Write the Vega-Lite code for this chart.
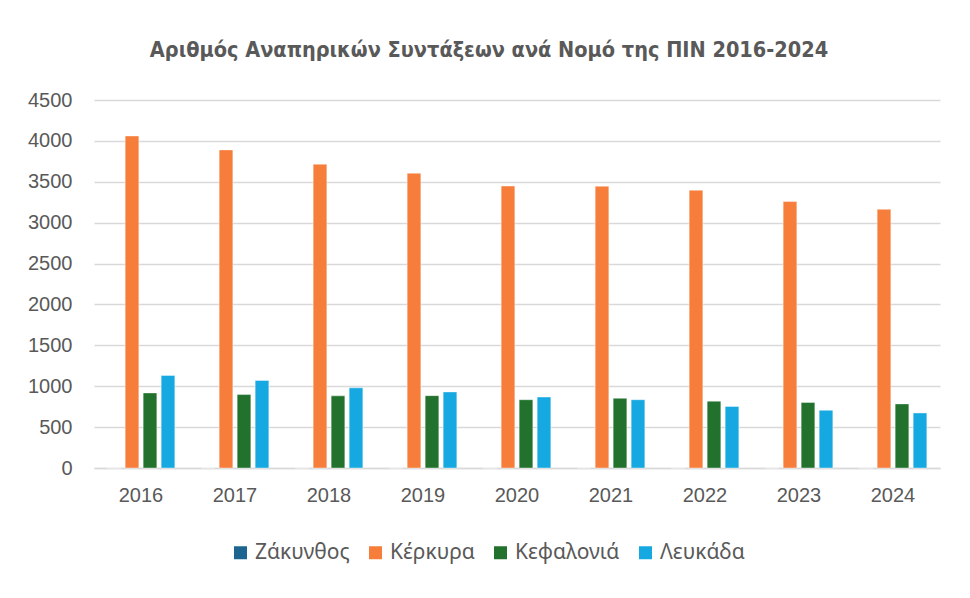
{
  "$schema": "https://vega.github.io/schema/vega-lite/v6.json",
  "autosize": "none",
  "width": 846,
  "height": 368,
  "padding": {"left": 94, "top": 100, "right": 30, "bottom": 130},
  "background": "white",
  "title": {
    "text": "Αριθμός Αναπηρικών Συντάξεων ανά Νομό της ΠΙΝ  2016-2024",
    "font": "Liberation Sans Narrow, DejaVu Sans Condensed, sans-serif",
    "fontSize": 21.5,
    "fontWeight": "bold",
    "color": "#595959",
    "anchor": "middle",
    "dx": -28,
    "offset": 29
  },
  "data": {
    "values": [
      {"year": "2016", "nomos": "Ζάκυνθος", "value": 0},
      {"year": "2016", "nomos": "Κέρκυρα", "value": 4060},
      {"year": "2016", "nomos": "Κεφαλονιά", "value": 918},
      {"year": "2016", "nomos": "Λευκάδα", "value": 1132},
      {"year": "2017", "nomos": "Ζάκυνθος", "value": 0},
      {"year": "2017", "nomos": "Κέρκυρα", "value": 3890},
      {"year": "2017", "nomos": "Κεφαλονιά", "value": 898},
      {"year": "2017", "nomos": "Λευκάδα", "value": 1070},
      {"year": "2018", "nomos": "Ζάκυνθος", "value": 0},
      {"year": "2018", "nomos": "Κέρκυρα", "value": 3715},
      {"year": "2018", "nomos": "Κεφαλονιά", "value": 882},
      {"year": "2018", "nomos": "Λευκάδα", "value": 980},
      {"year": "2019", "nomos": "Ζάκυνθος", "value": 0},
      {"year": "2019", "nomos": "Κέρκυρα", "value": 3604},
      {"year": "2019", "nomos": "Κεφαλονιά", "value": 885},
      {"year": "2019", "nomos": "Λευκάδα", "value": 930},
      {"year": "2020", "nomos": "Ζάκυνθος", "value": 0},
      {"year": "2020", "nomos": "Κέρκυρα", "value": 3448},
      {"year": "2020", "nomos": "Κεφαλονιά", "value": 835},
      {"year": "2020", "nomos": "Λευκάδα", "value": 868},
      {"year": "2021", "nomos": "Ζάκυνθος", "value": 0},
      {"year": "2021", "nomos": "Κέρκυρα", "value": 3446},
      {"year": "2021", "nomos": "Κεφαλονιά", "value": 852},
      {"year": "2021", "nomos": "Λευκάδα", "value": 835},
      {"year": "2022", "nomos": "Ζάκυνθος", "value": 0},
      {"year": "2022", "nomos": "Κέρκυρα", "value": 3397},
      {"year": "2022", "nomos": "Κεφαλονιά", "value": 817},
      {"year": "2022", "nomos": "Λευκάδα", "value": 752},
      {"year": "2023", "nomos": "Ζάκυνθος", "value": 0},
      {"year": "2023", "nomos": "Κέρκυρα", "value": 3258},
      {"year": "2023", "nomos": "Κεφαλονιά", "value": 801},
      {"year": "2023", "nomos": "Λευκάδα", "value": 706},
      {"year": "2024", "nomos": "Ζάκυνθος", "value": 0},
      {"year": "2024", "nomos": "Κέρκυρα", "value": 3163},
      {"year": "2024", "nomos": "Κεφαλονιά", "value": 784},
      {"year": "2024", "nomos": "Λευκάδα", "value": 673}
    ]
  },
  "mark": {"type": "bar", "stroke": "#ffffff", "strokeOpacity": 0.5, "strokeWidth": 0.8},
  "encoding": {
    "x": {
      "field": "year",
      "type": "nominal",
      "scale": {"paddingInner": 0.28, "paddingOuter": 0.14},
      "axis": {
        "title": null,
        "labelAngle": 0,
        "labelFont": "Liberation Sans, Arial, sans-serif",
        "labelFontSize": 20,
        "labelColor": "#595959",
        "labelPadding": 17,
        "ticks": false,
        "domainColor": "#d9d9d9",
        "domainWidth": 1.5
      }
    },
    "xOffset": {
      "field": "nomos",
      "type": "nominal",
      "sort": ["Ζάκυνθος", "Κέρκυρα", "Κεφαλονιά", "Λευκάδα"],
      "scale": {"paddingInner": 0.24}
    },
    "y": {
      "field": "value",
      "type": "quantitative",
      "scale": {"domain": [0, 4500]},
      "axis": {
        "title": null,
        "format": "d",
        "values": [0, 500, 1000, 1500, 2000, 2500, 3000, 3500, 4000, 4500],
        "labelFont": "Liberation Sans, Arial, sans-serif",
        "labelFontSize": 20,
        "labelColor": "#595959",
        "labelPadding": 22,
        "ticks": false,
        "domain": false,
        "gridColor": "#d9d9d9",
        "gridWidth": 1.5
      }
    },
    "color": {
      "field": "nomos",
      "type": "nominal",
      "sort": ["Ζάκυνθος", "Κέρκυρα", "Κεφαλονιά", "Λευκάδα"],
      "scale": {
        "domain": ["Ζάκυνθος", "Κέρκυρα", "Κεφαλονιά", "Λευκάδα"],
        "range": ["#1d6591", "#f67e3a", "#22722e", "#16a9e1"]
      },
      "legend": {
        "title": null,
        "orient": "none",
        "legendX": 136,
        "legendY": 442,
        "direction": "horizontal",
        "symbolType": "square",
        "symbolSize": 169,
        "symbolStrokeWidth": 0,
        "labelFont": "Noto Sans, Open Sans, sans-serif",
        "labelFontSize": 21,
        "labelColor": "#595959",
        "columnPadding": 15,
        "labelOffset": 4
      }
    }
  },
  "config": {
    "view": {"stroke": null}
  }
}
